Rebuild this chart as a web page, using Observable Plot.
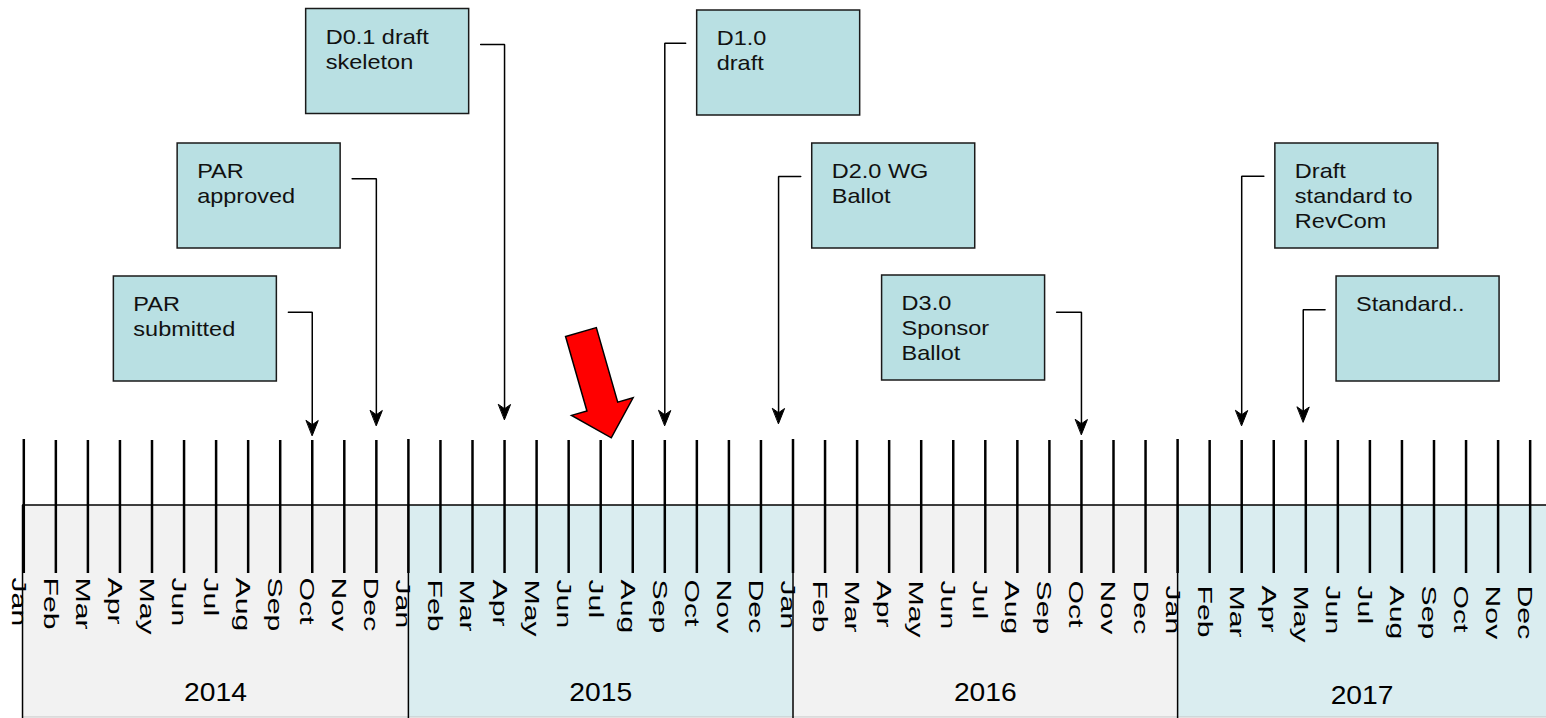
<!DOCTYPE html>
<html><head><meta charset="utf-8">
<script src="https://cdn.jsdelivr.net/npm/d3@7"></script>
<script src="https://cdn.jsdelivr.net/npm/@observablehq/plot@0.6"></script>
<style>html,body{margin:0;padding:0;background:#fff;} #chart svg{display:block;}</style>
</head><body><div id="chart"></div>
<script>
// ---------- data ----------
const monthNames = ["Jan","Feb","Mar","Apr","May","Jun","Jul","Aug","Sep","Oct","Nov","Dec"];
const years = [2014, 2015, 2016, 2017];
const milestoneLabels = ["PAR\nsubmitted", "PAR\napproved", "D0.1 draft\nskeleton", "D1.0\ndraft",
  "D2.0 WG\nBallot", "D3.0\nSponsor\nBallot", "Draft\nstandard to\nRevCom", "Standard.."];
// month index counted from Jan 2014 (= 0)
const milestoneMonths = [9, 11, 15, 20, 23.55, 33, 38, 39.92];
const currentMonth = 18.33;

// ---------- layout of the callouts (annotation placement) ----------
const boxLeft = [2.81, 4.80, 8.81, 21.01, 24.60, 26.78, 39.05, 40.96];   // in months
const boxTop = [276, 143, 8.5, 10, 143, 275, 143, 276];                  // in y units
const connectorSide = ["right", "right", "right", "left", "left", "right", "left", "left"];
const connectorY = [311.7, 178.3, 44, 42.7, 176, 311.7, 175.7, 309.3];
const arrowTipY = [435, 425, 419, 425, 423, 434, 425, 421.5];

const W = 1546, H = 718, PX = 32.05, X0 = 23.3;
const xDomain = [-X0 / PX, (W - X0) / PX];
const BOXW = 163 / PX, BOXH = 105, GAP = 11.5 / PX;
const monthLabelTop = [577, 579, 580, 585];
const yearLabelY = [692.5, 692, 692.5, 695];

const months = years.flatMap((yr, k) => monthNames.map((name, m) => ({i: k * 12 + m, name, year: yr, k})));
const bands = years.map((yr, k) => ({
  year: yr, k,
  x1: k === 0 ? -0.04 : k * 12,
  x2: Math.min((k + 1) * 12, xDomain[1]),
  fill: k % 2 ? "#daedf0" : "#f2f2f2"
}));
const boxes = milestoneLabels.map((label, j) => ({
  label, month: milestoneMonths[j],
  left: boxLeft[j], right: boxLeft[j] + BOXW,
  top: boxTop[j], bottom: boxTop[j] + BOXH,
  side: connectorSide[j], cy: connectorY[j], tip: arrowTipY[j]
}));
const connectors = boxes.flatMap((b, j) => {
  const sx = b.side === "right" ? b.right + GAP : b.left - GAP;
  return [{j, x: sx, y: b.cy}, {j, x: b.month, y: b.cy}, {j, x: b.month, y: b.tip - 11}];
});

const stealth = {
  draw(context, l) {
    context.moveTo(0, -l);
    context.lineTo(-6, 0);
    context.lineTo(0, -l * 0.28);
    context.lineTo(6, 0);
    context.closePath();
  }
};
const blockArrow = {
  draw(context, l) {
    const sh = 16, hh = 32, hl = 32.5;
    context.moveTo(-sh, 0);
    context.lineTo(-sh, -(l - hl));
    context.lineTo(-hh, -(l - hl));
    context.lineTo(0, -l);
    context.lineTo(hh, -(l - hl));
    context.lineTo(sh, -(l - hl));
    context.lineTo(sh, 0);
    context.closePath();
  }
};

const chart = Plot.plot({
  width: W, height: H, margin: 0,
  x: {domain: xDomain, range: [0, W], axis: null},
  y: {domain: [0, H], range: [0, H], axis: null},
  style: {fontFamily: "'Liberation Sans', Arial, sans-serif", background: "white", color: "black"},
  marks: [
    Plot.rect(bands, {x1: "x1", x2: "x2", y1: 505, y2: 717, fill: "fill"}),
    Plot.ruleY([716.5], {x1: -0.04, x2: xDomain[1], stroke: "#c4c4c4", strokeWidth: 1.2}),
    Plot.ruleX([-0.04, 12, 24, 36], {y1: 505, y2: H, stroke: "black", strokeWidth: 1.5}),
    Plot.ruleY([504.5], {x1: -0.04, x2: xDomain[1], stroke: "black", strokeWidth: 1.6}),
    Plot.ruleX(months, {x: "i", y1: d => d.i % 12 === 0 ? 439 : 440, y2: 573, stroke: "black", strokeWidth: 2.5}),
    Plot.text(months, {x: "i", y: d => monthLabelTop[d.k], text: "name", rotate: 90, textAnchor: "start",
      fontSize: 21, dx: -5.3, fill: "black"}),
    Plot.text(bands, {x: d => (d.x1 + d.x2) / 2, y: d => yearLabelY[d.k], text: d => String(d.year),
      fontSize: 25, fill: "black"}),
    Plot.rect(boxes, {x1: "left", x2: "right", y1: "top", y2: "bottom", fill: "#b9e0e3", stroke: "#1a1a1a", strokeWidth: 1.5}),
    Plot.text(boxes, {x: "left", y: d => d.top + 17, text: "label", textAnchor: "start", lineAnchor: "top",
      lineHeight: 1.19, fontSize: 21, dx: 19.5, fill: "#111"}),
    Plot.line(connectors, {x: "x", y: "y", z: "j", stroke: "black", strokeWidth: 1.5, strokeLinejoin: "miter"}),
    Plot.vector(boxes, {x: "month", y: "tip", length: 15, rotate: 180, anchor: "end", shape: stealth,
      fill: "black", stroke: "black", strokeWidth: 1}),
    Plot.vector([currentMonth], {x: d => d, y: 437.3, length: 110, rotate: 164, anchor: "end", shape: blockArrow,
      fill: "#ff0000", stroke: "black", strokeWidth: 1.5, strokeLinejoin: "miter"})
  ]
});

// the reference's lettering is drawn wider than the plain font: stretch each label about its anchor
chart.querySelectorAll("text").forEach(t => {
  const tr = t.getAttribute("transform") || "";
  const content = t.textContent.trim();
  let s;
  if (/rotate\(90/.test(tr)) s = "1.44,1";
  else if (/^\d{4}$/.test(content)) s = "1.13,1";
  else s = "1.12,1";
  t.setAttribute("transform", tr + ` scale(${s})`);
});

document.getElementById("chart").appendChild(chart);
</script>
</body></html>
